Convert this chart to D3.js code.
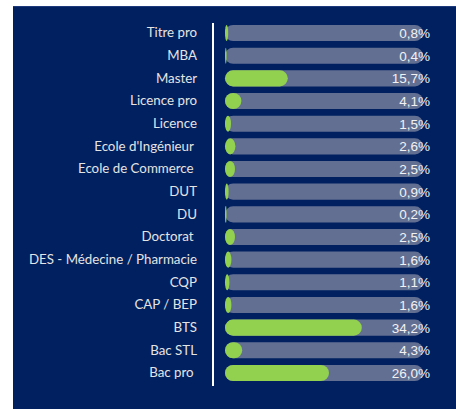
<!DOCTYPE html>
<html>
<head>
<meta charset="utf-8">
<script src="https://cdn.jsdelivr.net/npm/d3@7"></script>
<style>
  html, body { margin: 0; padding: 0; background: #ffffff; }
  svg { display: block; }
</style>
</head>
<body>
<svg id="chart" width="456" height="409"></svg>
<script>
const categories = ["Titre pro", "MBA", "Master", "Licence pro", "Licence", "Ecole d'Ingénieur\u00a0", "Ecole de Commerce\u00a0", "DUT", "DU", "Doctorat\u00a0", "DES - Médecine / Pharmacie", "CQP", "CAP / BEP", "BTS", "Bac STL", "Bac pro\u00a0"];
const values = [0.8, 0.4, 15.7, 4.1, 1.5, 2.6, 2.5, 0.9, 0.2, 2.5, 1.6, 1.1, 1.6, 34.2, 4.3, 26.0];
const valueLabels = ["0,8%", "0,4%", "15,7%", "4,1%", "1,5%", "2,6%", "2,5%", "0,9%", "0,2%", "2,5%", "1,6%", "1,1%", "1,6%", "34,2%", "4,3%", "26,0%"];
const axisMax = 49.5;

const data = categories.map((c, i) => ({ cat: c, v: values[i], label: valueLabels[i] }));

const svg = d3.select("#chart");
const W = 456, H = 409;

// panel background
svg.append("rect").attr("x", 13).attr("y", 6).attr("width", W - 13).attr("height", H - 6).attr("fill", "#002060");
svg.append("line").attr("x1", 13).attr("x2", W).attr("y1", 6.5).attr("y2", 6.5).attr("stroke", "#1d3a7c").attr("stroke-width", 1);

const x = d3.scaleLinear().domain([0, axisMax]).range([225, 423]);
const y = d3.scaleBand().domain(categories).range([21.7, 384.3]).paddingInner(0.29).paddingOuter(0.145);
const bh = y.bandwidth();

// tracks
svg.append("g").selectAll("rect").data(data).join("rect")
  .attr("x", x(0)).attr("y", d => y(d.cat))
  .attr("width", x(axisMax) - x(0)).attr("height", bh)
  .attr("rx", bh / 2).attr("ry", bh / 2)
  .attr("fill", "#626f92");

// value bars
svg.append("g").selectAll("rect").data(data).join("rect")
  .attr("x", x(0)).attr("y", d => y(d.cat))
  .attr("width", d => Math.max(1.5, x(d.v) - x(0))).attr("height", bh)
  .attr("rx", d => Math.min(bh / 2, (x(d.v) - x(0)) / 2)).attr("ry", bh / 2)
  .attr("fill", "#92d050");

// value labels
svg.append("g").selectAll("text").data(data).join("text")
  .attr("x", 430).attr("y", d => y(d.cat) + bh / 2)
  .attr("dy", "0.36em")
  .attr("text-anchor", "end")
  .attr("font-family", "'Liberation Sans', Arial, sans-serif")
  .attr("font-size", 13.5)
  .attr("fill", "#f2f2f2")
  .text(d => d.label);

// category axis
const axis = d3.axisLeft(y).tickSize(0).tickPadding(16);
const gAxis = svg.append("g").attr("transform", "translate(213,0)").call(axis);
gAxis.select(".domain").remove();
gAxis.selectAll("text")
  .attr("font-family", "Lato, 'Open Sans', sans-serif")
  .attr("font-size", 13.3)
  .attr("fill", "#e4e4e4")
  .style("white-space", "pre");
svg.append("line").attr("x1", 213).attr("x2", 213).attr("y1", 23).attr("y2", 386)
  .attr("stroke", "#ffffff").attr("stroke-width", 2);
</script>
</body>
</html>
